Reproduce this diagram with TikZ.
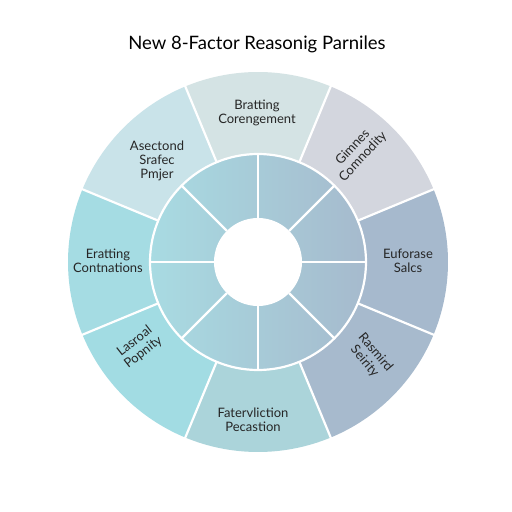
\documentclass[tikz,border=0pt]{standalone}
\usepackage{fontspec}
\setmainfont{Lato}
\usepackage{xcolor}
\usetikzlibrary{positioning}

\definecolor{topc}{HTML}{D4E3E4}
\definecolor{ulc}{HTML}{C9E3E9}
\definecolor{leftc}{HTML}{A5DCE3}
\definecolor{llc}{HTML}{A2DCE3}
\definecolor{botc}{HTML}{ABD4DA}
\definecolor{lrc}{HTML}{A7BACD}
\definecolor{rightc}{HTML}{A6B9CD}
\definecolor{urc}{HTML}{D3D6DE}
\definecolor{innerl}{HTML}{A8DBE2}
\definecolor{innerr}{HTML}{A6BACD}

\begin{document}
\begin{tikzpicture}[x=1pt,y=1pt]
  \tikzstyle{seclabel}=[align=center,text=black!85,inner sep=1pt,font=\fontsize{13}{14}\selectfont]
  \tikzstyle{gap}=[white,line width=2.2pt]
  \useasboundingbox[fill=white] (0,0) rectangle (512,512);
  \node[font=\fontsize{18.5}{21}\selectfont] (title) at (257,468) {New 8-Factor Reasonig Parniles};
  \coordinate (c) at (258,250);
  \begin{scope}[shift={(c)}]
    % outer ring, one sector per factor
    \foreach \a/\col in {90/topc,135/ulc,180/leftc,225/llc,270/botc,315/lrc,0/rightc,45/urc}
      \fill[\col] (\a-22.5:190pt) arc[start angle=\a-22.5,end angle=\a+22.5,radius=190pt]
        -- (\a+22.5:108pt) arc[start angle=\a+22.5,end angle=\a-22.5,radius=108pt] -- cycle;
    % inner ring
    \shade[left color=innerl,right color=innerr] (0,0) circle[radius=108pt];
    \fill[white] (0,0) circle[radius=44pt];
    \foreach \a in {0,45,...,315}
      \draw[gap] (\a:44pt) -- (\a:108pt);
    \foreach \a in {22.5,67.5,...,337.5}
      \draw[gap] (\a:108pt) -- (\a:191pt);
    \draw[gap] (0,0) circle[radius=108pt];
  \end{scope}
  \node[seclabel] (bratting) at (257,399) {Bratting\\Corengement};
  \node[seclabel] (asectond) at (157,351) {Asectond\\Srafec\\Pmjer};
  \node[seclabel] (eratting) at (108,251) {Eratting\\Contnations};
  \node[seclabel,rotate=38] (lasroal) at (139,165) {Lasroal\\Popnity};
  \node[seclabel] (fatervliction) at (253,92) {Fatervliction\\Pecastion};
  \node[seclabel,rotate=-50] (rasmird) at (370,155) {Rasmird\\Seirity};
  \node[seclabel] (euforase) at (408,251) {Euforase\\Salcs};
  \node[seclabel,rotate=47] (gimnes) at (358,360) {Gimnes\\Comnodity};
\end{tikzpicture}
\end{document}
